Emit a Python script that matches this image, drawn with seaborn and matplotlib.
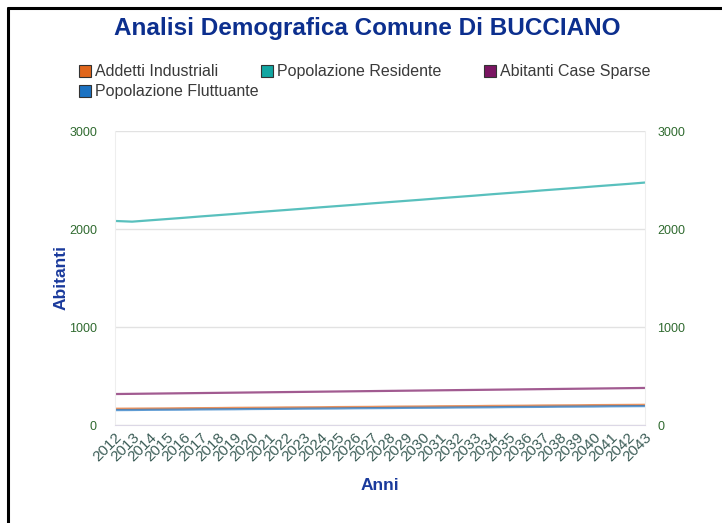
import matplotlib
matplotlib.use("Agg")
import matplotlib.pyplot as plt
from matplotlib.lines import Line2D
import pandas as pd
import seaborn as sns

# Data (abitanti per anno)
anni = list(range(2012, 2044))
popolazione_residente = [2082, 2075, 2088, 2101, 2114, 2128, 2141, 2154, 2168, 2181,
                         2194, 2207, 2221, 2234, 2247, 2261, 2274, 2287, 2300, 2314,
                         2327, 2340, 2354, 2367, 2380, 2394, 2407, 2420, 2434, 2447,
                         2460, 2474]
abitanti_case_sparse = [316, 318, 320, 322, 324, 326, 328, 330, 332, 334,
                        336, 338, 340, 342, 344, 346, 348, 350, 352, 354,
                        356, 358, 360, 362, 364, 366, 368, 370, 372, 374,
                        376, 378]
addetti_industriali = [166, 167, 168, 169, 171, 172, 173, 175, 176, 177,
                       179, 180, 181, 183, 184, 185, 187, 188, 189, 191,
                       192, 193, 195, 196, 197, 199, 200, 201, 203, 204,
                       205, 206]
popolazione_fluttuante = [152, 153, 155, 156, 157, 159, 160, 161, 163, 164,
                          165, 167, 168, 169, 171, 172, 173, 175, 176, 177,
                          179, 180, 181, 183, 184, 185, 187, 188, 189, 191,
                          192, 193]

serie = ["Addetti Industriali", "Popolazione Residente",
         "Abitanti Case Sparse", "Popolazione Fluttuante"]
colori = ["#e0661c", "#12a6a2", "#7a1562", "#1b72c2"]

df = pd.DataFrame({
    "Anni": anni * 4,
    "Abitanti": addetti_industriali + popolazione_residente
                + abitanti_case_sparse + popolazione_fluttuante,
    "Serie": sum([[s] * len(anni) for s in serie], []),
})

sns.set_style("white")
plt.rcParams["font.family"] = ["Liberation Sans", "DejaVu Sans"]

fig = plt.figure(figsize=(7.22, 5.23), dpi=100)
ax = fig.add_axes([115 / 722, 1 - 425 / 523, 530 / 722, 294 / 523])

sns.lineplot(data=df, x="Anni", y="Abitanti", hue="Serie", hue_order=serie,
             palette=colori, linewidth=1.6, alpha=0.7, legend=False, ax=ax)

ax.set_xlim(2012, 2043)
ax.set_ylim(0, 3000)
ax.set_yticks([0, 1000, 2000, 3000])
ax.set_xticks(anni)
ax.set_xticklabels([str(a) for a in anni], rotation=45, ha="right",
                   rotation_mode="anchor", fontsize=11, color="#3d5e58")
ax.tick_params(axis="y", labelsize=9, labelcolor="#2f6a2f", length=0, pad=13)
ax.tick_params(axis="x", length=0, pad=4)
ax.grid(axis="y", color="#e2e2e2", linewidth=1)
for side in ["left", "right", "top"]:
    ax.spines[side].set_color("#eeeeee")
ax.spines["top"].set_visible(False)
ax.spines["bottom"].set_color("#dcd8e6")

ax2 = ax.twinx()
ax2.set_ylim(0, 3000)
ax2.set_yticks([0, 1000, 2000, 3000])
ax2.tick_params(axis="y", labelsize=9, labelcolor="#2f6a2f", length=0, pad=9)
for side in ax2.spines:
    ax2.spines[side].set_visible(False)

ax.set_xlabel("Anni", fontsize=12.5, fontweight="bold", color="#1a3a9c",
              labelpad=10)
ax.set_ylabel("Abitanti", fontsize=12.5, fontweight="bold", color="#1a3a9c",
              labelpad=0)

fig.text(367 / 722, 1 - 28 / 523, "Analisi Demografica Comune Di BUCCIANO",
         ha="center", va="center", fontsize=17.5, fontweight="bold",
         color="#0c2f8e")

# legend entries: square swatch + label, laid out in rows like the original
legend_pos = [(80, 71), (262, 71), (485, 71), (80, 91)]
for (px, py), nome, c in zip(legend_pos, serie, colori):
    fig.add_artist(Line2D([(px + 5) / 722], [1 - py / 523], marker="s",
                          linestyle="", markersize=8.5, markerfacecolor=c,
                          markeredgecolor="#333333", markeredgewidth=0.8,
                          transform=fig.transFigure))
    fig.text((px + 15) / 722, 1 - (py + 5) / 523, nome, ha="left",
             va="baseline", fontsize=11.5, color="#3a3a3a")

# black frame lines on left and top
fig.add_artist(Line2D([8 / 722, 8 / 722], [0, 1 - 8 / 523], color="black",
                      linewidth=2.2, transform=fig.transFigure))
fig.add_artist(Line2D([8 / 722, 1], [1 - 8 / 523, 1 - 8 / 523], color="black",
                      linewidth=2.2, transform=fig.transFigure))

fig.savefig("out.png", dpi=100)
